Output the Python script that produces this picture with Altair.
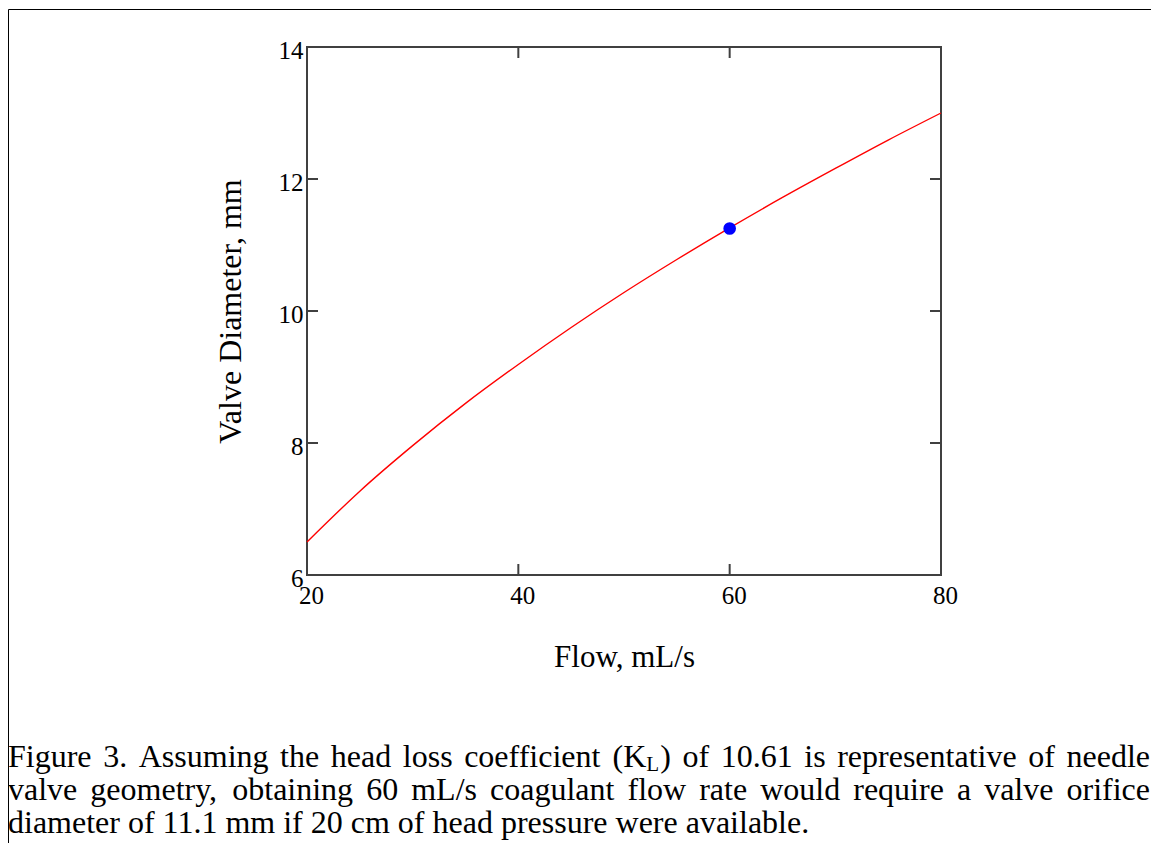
import altair as alt
import pandas as pd

# ---- data ----
flow = [20, 25, 30, 35, 40, 45, 50, 55, 60, 65, 70, 75, 80]
diameter = [6.50, 7.27, 7.96, 8.60, 9.19, 9.75, 10.28, 10.78, 11.26, 11.72, 12.16, 12.59, 13.00]
point_flow = [60]
point_diameter = [11.25]
x_ticks = [20, 40, 60, 80]
y_ticks = [6, 8, 10, 12, 14]
x_title = "Flow, mL/s"
y_title = "Valve Diameter, mm"

# caption: each word is a list of (text, is_subscript) segments
caption_line1 = [[("Figure", 0)], [("3.", 0)], [("Assuming", 0)], [("the", 0)], [("head", 0)],
                 [("loss", 0)], [("coefficient", 0)], [("(K", 0), ("L", 1), (")", 0)],
                 [("of", 0)], [("10.61", 0)], [("is", 0)], [("representative", 0)],
                 [("of", 0)], [("needle", 0)]]
caption_line2 = [[(w, 0)] for w in
                 "valve geometry, obtaining 60 mL/s coagulant flow rate would require a valve orifice".split(" ")]
caption_line3 = [[("diameter of 11.1 mm if 20 cm of head pressure were available.", 0)]]
caption_justified = [True, True, False]
caption_baselines = [767, 800, 833]

FONT = "Liberation Serif"
FRAME = "#404040"
W, H = 634, 528
PLOT_LEFT, PLOT_TOP = 307, 47          # page position of the plot area
CAP_FS, SUB_FS, SUB_SHIFT = 32, 21, 4
CAP_LEFT, CAP_RIGHT = 8, 1150

# Times / Liberation Serif advance widths (1/1000 em) for laying out the justified caption
ADV = {c: 500 for c in "0123456789bdghknopquvxy"}
ADV.update({c: 444 for c in "acez"})
ADV.update({c: 278 for c in "ijlt/"})
ADV.update({"f": 333, "r": 333, "s": 389, "m": 778, "w": 722, " ": 250, ".": 250, ",": 250,
            "(": 333, ")": 333, "F": 556, "A": 722, "K": 722, "L": 611})


def seg_width(text, fs):
    return sum(ADV.get(c, 500) for c in text) * fs / 1000.0


rows = []
for words, just, base in zip([caption_line1, caption_line2, caption_line3],
                             caption_justified, caption_baselines):
    widths = [sum(seg_width(t, SUB_FS if s else CAP_FS) + (1 if s else 0) for t, s in w)
              for w in words]
    if just and len(words) > 1:
        gap = (CAP_RIGHT - CAP_LEFT - sum(widths)) / (len(words) - 1)
    else:
        gap = seg_width(" ", CAP_FS)
    x = CAP_LEFT
    for w, wd in zip(words, widths):
        sx = x
        for t, s in w:
            fs = SUB_FS if s else CAP_FS
            rows.append({"word": t, "cx": sx - PLOT_LEFT,
                         "cy": base + (SUB_SHIFT if s else 0) - PLOT_TOP, "fs": fs})
            sx += seg_width(t, fs) + (1 if s else 0)
        x += wd + gap
df_cap = pd.DataFrame(rows)

df_curve = pd.DataFrame({"flow": flow, "diameter": diameter})
df_pt = pd.DataFrame({"flow": point_flow, "diameter": point_diameter})
df_xt = pd.DataFrame({"flow": x_ticks})
df_yt = pd.DataFrame({"diameter": y_ticks})

xs = alt.Scale(domain=[20, 80], nice=False, zero=False)
ys = alt.Scale(domain=[6, 14], nice=False, zero=False)

x_axis = alt.Axis(values=x_ticks, title=x_title, labelPadding=8, labelOffset=4,
                  labelFlush=False, labelOverlap=False, titlePadding=34, titleFontSize=31)
y_axis = alt.Axis(values=y_ticks, title=y_title, labelPadding=4, labelOffset=3,
                  labelFlush=False, labelOverlap=False, titlePadding=31, titleFontSize=32)

X = alt.X("flow:Q", scale=xs, axis=x_axis)
Y = alt.Y("diameter:Q", scale=ys, axis=y_axis)

frame = alt.Chart(pd.DataFrame({"a": [0]})).mark_rect(
    fillOpacity=0, stroke="black", strokeWidth=1
).encode(
    x=alt.value(8.5 - PLOT_LEFT), x2=alt.value(1400),
    y=alt.value(9.5 - PLOT_TOP), y2=alt.value(1200),
)

caption = alt.Chart(df_cap).mark_text(
    font=FONT, align="left", baseline="alphabetic", color="black"
).encode(
    x=alt.X("cx:Q", scale=None),
    y=alt.Y("cy:Q", scale=None),
    text="word:N",
    size=alt.Size("fs:Q", scale=None, legend=None),
)

curve = alt.Chart(df_curve).mark_line(
    color="#ff0000", strokeWidth=1.4, interpolate="monotone"
).encode(x=X, y=Y)

dot = alt.Chart(df_pt).mark_circle(color="#0000ff", size=160, opacity=1).encode(x=X, y=Y)

tick_style = dict(color=FRAME, strokeWidth=2)
t_bottom = alt.Chart(df_xt).mark_rule(**tick_style).encode(
    x=X, y=alt.value(H), y2=alt.value(H - 11))
t_top = alt.Chart(df_xt).mark_rule(**tick_style).encode(
    x=X, y=alt.value(0), y2=alt.value(11))
t_left = alt.Chart(df_yt).mark_rule(**tick_style).encode(
    y=Y, x=alt.value(0), x2=alt.value(11))
t_right = alt.Chart(df_yt).mark_rule(**tick_style).encode(
    y=Y, x=alt.value(W), x2=alt.value(W - 11))

TOTAL_W, TOTAL_H = 1143, 835
chart = alt.layer(frame, caption, curve, dot, t_bottom, t_top, t_left, t_right).properties(
    width=W, height=H,
    background="white",
    autosize=alt.AutoSizeParams(type="none"),
    padding={"left": PLOT_LEFT - 8, "top": PLOT_TOP - 8,
             "right": TOTAL_W - (PLOT_LEFT - 8) - W, "bottom": TOTAL_H - (PLOT_TOP - 8) - H},
).configure_view(
    stroke=FRAME, strokeWidth=2
).configure_axis(
    labelFont=FONT, labelFontSize=25, labelColor="black",
    titleFont=FONT, titleFontWeight="normal", titleColor="black",
    domain=False, ticks=False, tickSize=0, grid=False,
)

chart.save("out.html", embed_options={"renderer": "svg", "actions": False})
